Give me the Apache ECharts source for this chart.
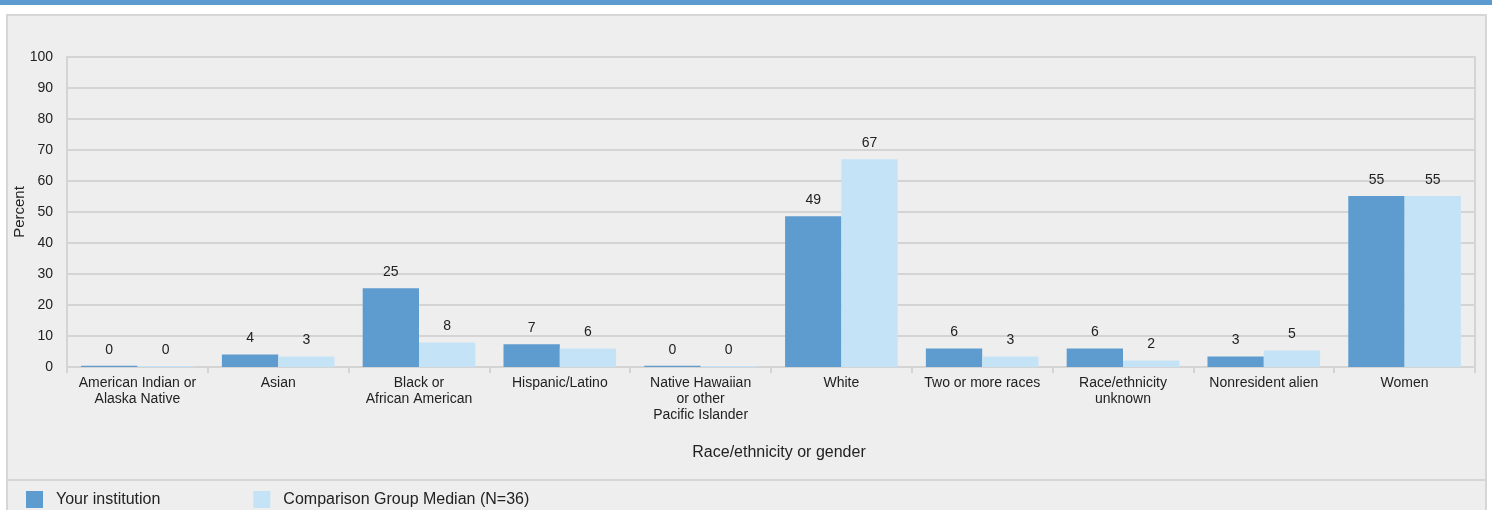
<!DOCTYPE html>
<html>
<head>
<meta charset="utf-8">
<script src="https://cdn.jsdelivr.net/npm/echarts@6/dist/echarts.min.js"></script>
<style>
html,body{margin:0;padding:0;background:#ffffff;}
#chart{width:1492px;height:510px;}
</style>
</head>
<body>
<div id="chart"></div>
<script>
const categories = [
  'American Indian or\nAlaska Native',
  'Asian',
  'Black or\nAfrican American',
  'Hispanic/Latino',
  'Native Hawaiian\nor other\nPacific Islander',
  'White',
  'Two or more races',
  'Race/ethnicity\nunknown',
  'Nonresident alien',
  'Women'
];
const yourInstitution = [0.4, 4.0, 25.4, 7.3, 0.4, 48.6, 6.0, 6.0, 3.4, 55.2];
const comparisonMedian = [0.3, 3.4, 7.9, 6.0, 0.3, 67.0, 3.4, 2.1, 5.3, 55.2];
const seriesNames = ['Your institution', 'Comparison Group Median (N=36)'];
const yTicks = {min: 0, max: 100, interval: 10};

const FONT = 'Liberation Sans, Arial, sans-serif';
const TXT = '#222222';
const GRIDC = '#d4d4d4';

const chart = echarts.init(document.getElementById('chart'), null, {renderer: 'canvas'});
const labelOpt = {
  show: true,
  position: 'top',
  distance: 9,
  color: TXT,
  fontSize: 14,
  fontFamily: FONT,
  formatter: p => Math.round(p.value)
};
chart.setOption({
  backgroundColor: '#ffffff',
  animation: false,
  textStyle: {fontFamily: FONT},
  graphic: [
    {type: 'rect', z: -10, silent: true, shape: {x: 0, y: 0, width: 1492, height: 5}, style: {fill: '#5b9bd0'}},
    {type: 'rect', z: -10, silent: true, shape: {x: 7, y: 15, width: 1479, height: 520}, style: {fill: '#eeeeee', stroke: '#d6d6d6', lineWidth: 2}},
    {type: 'line', z: -9, silent: true, shape: {x1: 7, y1: 480, x2: 1486, y2: 480}, style: {stroke: '#d6d6d6', lineWidth: 2}}
  ],
  grid: {
    left: 67, top: 57, right: 17, bottom: 143,
    show: true, borderColor: GRIDC, borderWidth: 2, backgroundColor: 'transparent',
    containLabel: false,
    outerBoundsMode: 'none'
  },
  legend: {
    left: 26, top: 491, padding: 0,
    icon: 'rect', itemWidth: 17, itemHeight: 17, itemGap: 93,
    textStyle: {color: TXT, fontSize: 16, fontFamily: FONT, padding: [0, 0, 0, 8]},
    data: seriesNames
  },
  xAxis: {
    type: 'category',
    data: categories,
    name: 'Race/ethnicity or gender',
    nameLocation: 'middle',
    nameGap: 78,
    nameMoveOverlap: false,
    nameTextStyle: {color: TXT, fontSize: 16, fontFamily: FONT, padding: [0, 0, 0, 16]},
    axisLine: {show: true, lineStyle: {color: GRIDC, width: 2}},
    axisTick: {show: true, length: 6, lineStyle: {color: GRIDC, width: 2}},
    axisLabel: {interval: 0, color: TXT, fontSize: 14, fontFamily: FONT, lineHeight: 16, margin: 8}
  },
  yAxis: {
    type: 'value',
    min: yTicks.min, max: yTicks.max, interval: yTicks.interval,
    name: 'Percent',
    nameLocation: 'middle',
    nameGap: 40,
    nameRotate: 90,
    nameMoveOverlap: false,
    nameTextStyle: {color: TXT, fontSize: 15, fontFamily: FONT},
    axisLine: {show: true, lineStyle: {color: GRIDC, width: 2}},
    axisTick: {show: false},
    splitLine: {show: true, lineStyle: {color: GRIDC, width: 2}},
    axisLabel: {color: TXT, fontSize: 14, fontFamily: FONT, margin: 14}
  },
  series: [
    {
      name: seriesNames[0], type: 'bar', data: yourInstitution,
      barGap: '0%', barCategoryGap: '20%',
      itemStyle: {color: '#5e9bcf'},
      label: labelOpt
    },
    {
      name: seriesNames[1], type: 'bar', data: comparisonMedian,
      barGap: '0%', barCategoryGap: '20%',
      itemStyle: {color: '#c5e3f6'},
      label: labelOpt
    }
  ]
});
</script>
</body>
</html>
